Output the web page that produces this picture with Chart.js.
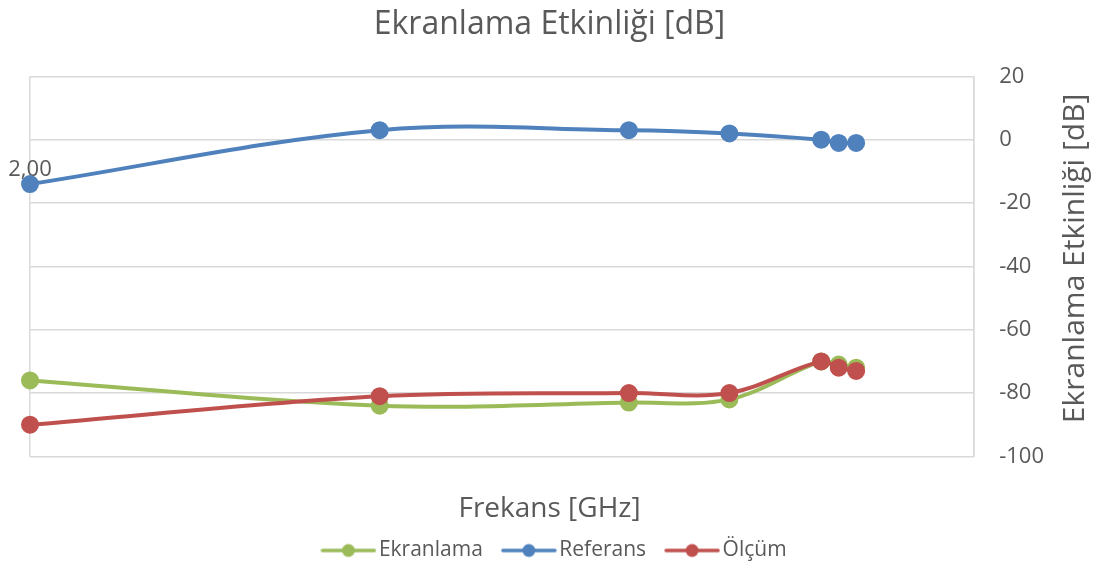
<!DOCTYPE html>
<html>
<head>
<meta charset="utf-8">
<script src="https://cdn.jsdelivr.net/npm/chart.js@4.4.1/dist/chart.umd.min.js"></script>
<style>
  html, body { margin: 0; padding: 0; background: #fff; }
  #wrap { width: 1094px; height: 563px; }
</style>
</head>
<body>
<div id="wrap"><canvas id="seChart"></canvas></div>
<script>
// frekans [GHz] (okunan konumlardan tahmini)
const frekans = [2, 6, 8.85, 10, 11.05, 11.25, 11.45];
const ekranlama = [-76, -84, -83, -82, -70, -71, -72];
const referans = [-14, 3, 3, 2, 0, -1, -1];
const olcum = [-90, -81, -80, -80, -70, -72, -73];
const yTicks = [20, 0, -20, -40, -60, -80, -100];
const yTitle = 'Ekranlama Etkinliği [dB]';

const FONT = '"Open Sans", sans-serif';
const GREY = '#595959';
const GRID = '#d9d9d9';

function legendIcon(color){
  const c = document.createElement('canvas');
  c.width = 72; c.height = 16;
  const g = c.getContext('2d');
  g.strokeStyle = color; g.lineWidth = 3.5; g.lineCap = 'round';
  g.beginPath(); g.moveTo(18, 8); g.lineTo(70, 8); g.stroke();
  g.fillStyle = color;
  g.beginPath(); g.arc(44, 8, 6.5, 0, Math.PI * 2); g.fill();
  return c;
}

function series(label, values, color, order){
  return {
    label,
    data: frekans.map((f, i) => ({x: f, y: values[i]})),
    borderColor: color,
    backgroundColor: color,
    borderWidth: 4,
    pointRadius: 7,
    pointHoverRadius: 7,
    tension: 0.35,
    clip: false,
    order
  };
}

// sağ eksen başlığı aşağıdan yukarı okunuyor
const rightTitle = {
  id: 'rightTitle',
  afterDraw(chart){
    const {ctx, chartArea} = chart;
    ctx.save();
    ctx.translate(1075, (chartArea.top + chartArea.bottom) / 2 - 8);
    ctx.rotate(-Math.PI / 2);
    ctx.fillStyle = GREY;
    ctx.font = '30px ' + FONT;
    ctx.textAlign = 'center';
    ctx.textBaseline = 'middle';
    ctx.fillText(yTitle, 0, 0);
    ctx.restore();
  }
};

new Chart(document.getElementById('seChart').getContext('2d'), {
  type: 'line',
  data: {
    datasets: [
      series('Ekranlama', ekranlama, '#9BBB59', 3),
      series('Referans', referans, '#4F81BD', 2),
      series('Ölçüm', olcum, '#C0504D', 1)
    ]
  },
  plugins: [rightTitle],
  options: {
    responsive: true,
    maintainAspectRatio: false,
    animation: false,
    layout: { padding: { left: 30, right: 25, top: 2, bottom: -8 } },
    plugins: {
      title: {
        display: true,
        text: 'Ekranlama Etkinliği [dB]',
        color: GREY,
        font: { family: FONT, size: 32, weight: 'normal' },
        padding: { top: 4, bottom: 32 }
      },
      subtitle: {
        display: true,
        position: 'bottom',
        weight: 500,
        text: 'Frekans [GHz]',
        color: GREY,
        font: { family: FONT, size: 28, weight: 'normal' },
        padding: { top: 36, bottom: 4 }
      },
      legend: {
        position: 'bottom',
        labels: {
          usePointStyle: true,
          pointStyleWidth: 56,
          color: GREY,
          font: { family: FONT, size: 21 },
          padding: 10,
          generateLabels: chart => chart.data.datasets.map((ds, i) => ({
            text: ds.label,
            pointStyle: legendIcon(ds.borderColor),
            fontColor: GREY,
            datasetIndex: i,
            hidden: !chart.isDatasetVisible(i),
            lineWidth: 0
          }))
        }
      },
      tooltip: { enabled: false }
    },
    scales: {
      x: {
        type: 'linear',
        min: 2,
        max: 12.8,
        position: { y: -5 },
        afterBuildTicks: axis => { axis.ticks = [{value: 2}, {value: 12.8}]; },
        ticks: {
          color: GREY,
          font: { family: FONT, size: 22 },
          padding: 1,
          maxRotation: 0,
          callback: v => v === 2 ? '2,00' : ''
        },
        grid: { color: GRID, lineWidth: 1.5, drawTicks: false },
        border: { display: false }
      },
      y: {
        position: 'right',
        min: -100,
        max: 20,
        afterBuildTicks: axis => { axis.ticks = yTicks.map(v => ({value: v})); },
        ticks: {
          color: GREY,
          font: { family: FONT, size: 22 },
          padding: 25
        },
        grid: { color: GRID, lineWidth: 1.5, drawTicks: false },
        border: { display: true, color: GRID, width: 1.5 }
      }
    }
  }
});
</script>
</body>
</html>
